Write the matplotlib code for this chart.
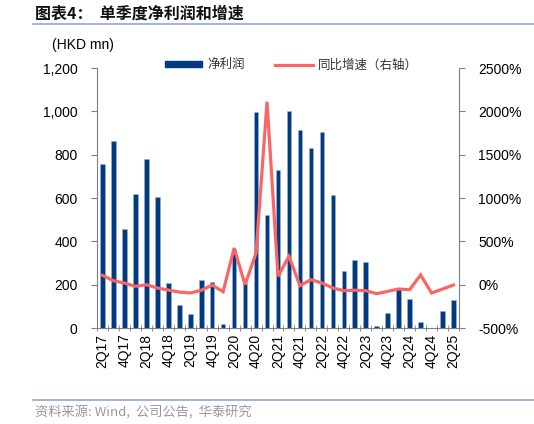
import matplotlib
matplotlib.use("Agg")
import matplotlib.pyplot as plt
from matplotlib.patches import Patch
from matplotlib.lines import Line2D
import numpy as np

plt.rcParams['font.family'] = ['Liberation Sans', 'Noto Sans CJK SC', 'DejaVu Sans']

quarters = ["2Q17", "3Q17", "4Q17", "1Q18", "2Q18", "3Q18", "4Q18", "1Q19", "2Q19", "3Q19",
            "4Q19", "1Q20", "2Q20", "3Q20", "4Q20", "1Q21", "2Q21", "3Q21", "4Q21", "1Q22",
            "2Q22", "3Q22", "4Q22", "1Q23", "2Q23", "3Q23", "4Q23", "1Q24", "2Q24", "3Q24",
            "4Q24", "1Q25", "2Q25"]
net_profit = [755, 864, 455, 617, 781, 603, 209, 106, 65, 221,
              214, 18, 364, 206, 998, 520, 729, 1001, 912, 831,
              904, 614, 263, 314, 305, 11, 71, 178, 132, 28,
              2, 80, 129]
yoy_growth = [108, 46, 19, -19, 0, -38, -62, -85, -96, -65,
              -4, -81, 423, 0, 365, 2110, 96, 327, -12, 58,
              19, -38, -69, -65, -69, -104, -77, -50, -58, 112,
              -96, -50, -4]
left_ticks = [0, 200, 400, 600, 800, 1000, 1200]
right_ticks = [-500, 0, 500, 1000, 1500, 2000, 2500]

BAR_COLOR = "#023a80"
LINE_COLOR = "#fa6666"
SPINE = "#7f7f7f"

fig = plt.figure(figsize=(5.34, 4.24), dpi=100)
ax = fig.add_axes([0.1816, 0.2264, 0.678, 0.6132])
ax2 = ax.twinx()

x = np.arange(len(quarters))
ax.bar(x, net_profit, width=0.42, color=BAR_COLOR, edgecolor="#9fb3d1", linewidth=0.4, zorder=2)
ax2.plot(x, yoy_growth, color=LINE_COLOR, lw=2.3, zorder=3, solid_joinstyle='miter')

ax.set_xlim(-0.5, len(quarters) - 0.5)
ax.set_ylim(0, 1200)
ax2.set_ylim(-500, 2500)
ax.set_yticks(left_ticks)
ax.set_yticklabels([f"{v:,}" for v in left_ticks], fontsize=10)
ax2.set_yticks(right_ticks)
ax2.set_yticklabels([f"{v}%" for v in right_ticks], fontsize=10)

ax.set_xticks(x[::2])
ax.set_xticklabels(quarters[::2], rotation=90, fontsize=10)
ax.set_xticks(np.arange(-0.5, len(quarters), 1), minor=True)
ax.tick_params(axis='x', which='major', length=0, pad=4)
ax.tick_params(axis='x', which='minor', length=4, direction='inout', color=SPINE)
ax.tick_params(axis='y', length=4, color=SPINE, pad=10)
ax2.tick_params(axis='y', length=4, color=SPINE, pad=10)

for a in (ax, ax2):
    a.spines['top'].set_visible(False)
    for s in ['left', 'right', 'bottom']:
        a.spines[s].set_color(SPINE)
ax.spines['right'].set_visible(False)
ax2.spines['left'].set_visible(False)
ax2.spines['bottom'].set_visible(False)

handles = [Patch(facecolor=BAR_COLOR, edgecolor=BAR_COLOR), Line2D([], [], color=LINE_COLOR, lw=2.3)]
leg = ax.legend(handles, ["净利润", "同比增速（右轴）"], loc='upper center', bbox_to_anchor=(0.537, 1.08),
                ncol=2, frameon=False, handlelength=3.0, handleheight=0.4,
                columnspacing=2.4, handletextpad=0.45,
                prop={'family': ['Noto Sans CJK SC'], 'size': 9})
for t in leg.get_texts():
    t.set_color("#333333")

fig.text(0.065, 0.967, "图表4：  单季度净利润和增速", fontsize=11.5, fontweight='bold',
         family=['Noto Sans CJK SC'], va='center', ha='left', color="#111111")
fig.add_artist(Line2D([0.062, 1.0], [0.943, 0.943], color="#8eaacb", lw=1.2))
fig.text(0.098, 0.893, "(HKD mn)", fontsize=10, va='center', ha='left')
fig.add_artist(Line2D([0.062, 1.0], [0.057, 0.057], color="#8eaacb", lw=1.2))
fig.text(0.065, 0.030, "资料来源: Wind,  公司公告,  华泰研究", fontsize=9.5,
         family=['Noto Sans CJK SC', 'Liberation Sans'], va='center', ha='left', color="#999999")

fig.savefig("out.png", dpi=100)
